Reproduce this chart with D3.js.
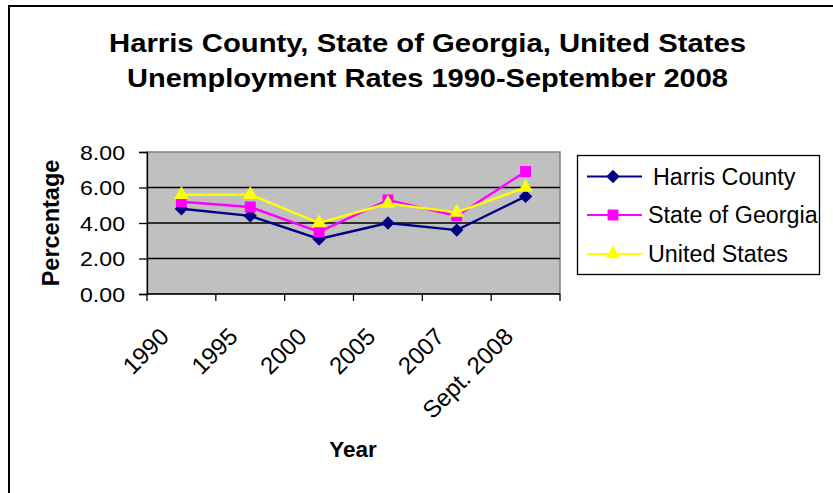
<!DOCTYPE html>
<html><head><meta charset="utf-8">
<script src="https://cdn.jsdelivr.net/npm/d3@7"></script>
<style>body{margin:0;background:#fff}svg{display:block}text{font-family:"Liberation Sans",Arial,sans-serif}</style>
</head><body>
<svg id="c" width="833" height="493"></svg>
<script>
const categories = ["1990","1995","2000","2005","2007","Sept. 2008"];
const harrisCounty = [4.8,4.4,3.1,4.0,3.6,5.5];
const stateOfGeorgia = [5.2,4.9,3.5,5.3,4.4,6.9];
const unitedStates = [5.6,5.6,4.0,5.1,4.6,6.0];
const yTicks = [0,2,4,6,8];
const seriesNames = ["Harris County","State of Georgia","United States"];
const seriesColors = ["#000080","#FF00FF","#FFFF00"];
const seriesData = [harrisCounty, stateOfGeorgia, unitedStates];

const diamond = {draw(ctx,size){const r=Math.sqrt(size/2);ctx.moveTo(0,-r);ctx.lineTo(r,0);ctx.lineTo(0,r);ctx.lineTo(-r,0);ctx.closePath();}};
const seriesShapes = [diamond, d3.symbolSquare, d3.symbolTriangle];
const markerSizes = [90,120,95];

const svg = d3.select("#c");
svg.append("rect").attr("x",9).attr("y",6).attr("width",840).attr("height",500)
  .attr("fill","#fff").attr("stroke","#000").attr("stroke-width",2);

const L=147,R=560,T=152,B=294;
const x = d3.scaleBand().domain(categories).range([L,R]).padding(0);
const y = d3.scaleLinear().domain([0,8]).range([B,T]);
const cx = c => x(c)+x.bandwidth()/2;

// title
svg.append("text").attr("x",427.5).attr("y",52).attr("text-anchor","middle")
  .attr("font-weight","bold").attr("font-size",26).attr("textLength",637).attr("lengthAdjust","spacingAndGlyphs")
  .text("Harris County, State of Georgia, United States");
svg.append("text").attr("x",427.5).attr("y",87).attr("text-anchor","middle")
  .attr("font-weight","bold").attr("font-size",26).attr("textLength",601).attr("lengthAdjust","spacingAndGlyphs")
  .text("Unemployment Rates 1990-September 2008");

// plot area
svg.append("rect").attr("x",L).attr("y",T).attr("width",R-L).attr("height",B-T)
  .attr("fill","#C0C0C0").attr("stroke","#808080").attr("stroke-width",1.5);
svg.append("g").selectAll("line").data(yTicks.filter(d=>d>0&&d<8)).join("line")
  .attr("x1",L).attr("x2",R).attr("y1",d=>y(d)).attr("y2",d=>y(d))
  .attr("stroke","#000").attr("stroke-width",1.3);

// y axis
const yAxis = svg.append("g").attr("transform",`translate(${L},0)`)
  .call(d3.axisLeft(y).tickValues(yTicks).tickFormat(d3.format(".2f")).tickSize(8).tickPadding(14));
yAxis.select(".domain").attr("stroke","#000").attr("stroke-width",1.3);
yAxis.selectAll("line").attr("stroke","#000").attr("stroke-width",1.3);
yAxis.selectAll("text").attr("font-size",20.5).attr("font-family","Liberation Sans, Arial, sans-serif")
  .attr("fill","#000").attr("textLength",45).attr("lengthAdjust","spacingAndGlyphs").attr("dy","0.36em");

// x axis
const xAxis = svg.append("g").attr("transform",`translate(0,${B})`);
xAxis.append("line").attr("x1",L).attr("x2",R).attr("stroke","#000").attr("stroke-width",1.6);
const bounds = categories.map(c=>x(c)).concat([R]);
xAxis.selectAll(".tk").data(bounds).join("line").attr("class","tk")
  .attr("x1",d=>d).attr("x2",d=>d).attr("y1",0).attr("y2",7).attr("stroke","#000").attr("stroke-width",1.3);
xAxis.selectAll(".lbl").data(categories).join("text").attr("class","lbl")
  .attr("text-anchor","end").attr("font-size",24).attr("fill","#000")
  .attr("transform",d=>`translate(${cx(d)-11},${44}) rotate(-45)`)
  .text(d=>d);

// axis titles
svg.append("text").attr("transform",`translate(59,${(T+B)/2}) rotate(-90)`)
  .attr("text-anchor","middle").attr("font-weight","bold").attr("font-size",23.5).text("Percentage");
svg.append("text").attr("x",353).attr("y",457).attr("text-anchor","middle")
  .attr("font-weight","bold").attr("font-size",22.5).text("Year");

// series
const line = d3.line().x((d,i)=>cx(categories[i])).y(d=>y(d));
seriesData.forEach((data,s)=>{
  const g = svg.append("g");
  g.append("path").datum(data).attr("d",line).attr("fill","none")
    .attr("stroke",seriesColors[s]).attr("stroke-width",2.4);
  g.selectAll("path.m").data(data).join("path").attr("class","m")
    .attr("d",d3.symbol().type(seriesShapes[s]).size(markerSizes[s]))
    .attr("transform",(d,i)=>`translate(${cx(categories[i])},${y(d)})`)
    .attr("fill",seriesColors[s]);
});

// legend
const lg = svg.append("g");
lg.append("rect").attr("x",577.5).attr("y",155.5).attr("width",242).attr("height",119)
  .attr("fill","#fff").attr("stroke","#000").attr("stroke-width",1.3);
const ly = [176.5,215,254];
const lx = [653,648,648];
seriesNames.forEach((n,s)=>{
  lg.append("line").attr("x1",587).attr("x2",642).attr("y1",ly[s]).attr("y2",ly[s])
    .attr("stroke",seriesColors[s]).attr("stroke-width",2);
  lg.append("path").attr("d",d3.symbol().type(seriesShapes[s]).size(markerSizes[s]))
    .attr("transform",`translate(613,${ly[s]})`).attr("fill",seriesColors[s]);
  lg.append("text").attr("x",lx[s]).attr("y",ly[s]+8).attr("font-size",23.3).attr("fill","#000").text(n);
});
</script>
</body></html>
